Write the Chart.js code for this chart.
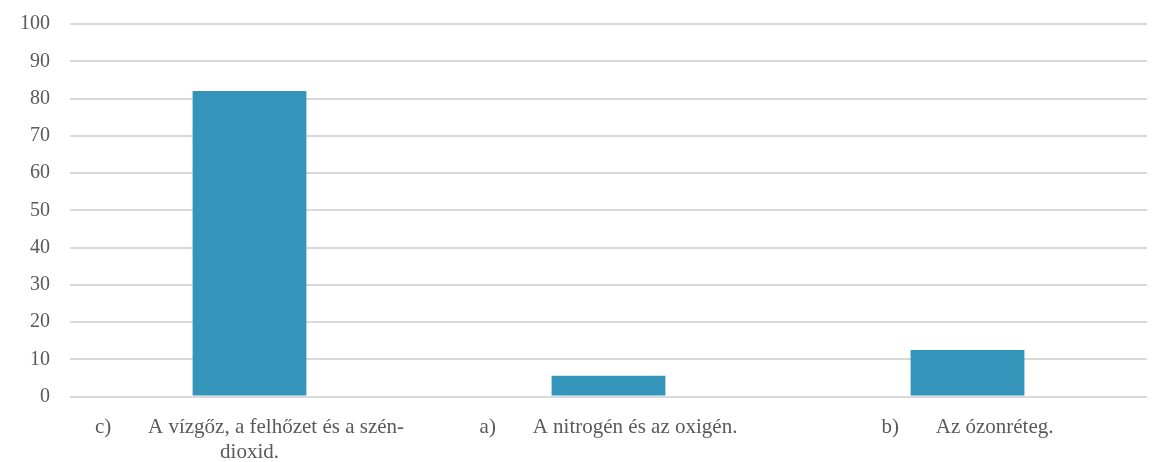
<!DOCTYPE html>
<html><head><meta charset="utf-8">
<script src="https://cdn.jsdelivr.net/npm/chart.js@4/dist/chart.umd.min.js"></script>
<style>html,body{margin:0;padding:0;background:#fff;overflow:hidden;width:1155px;height:462px}#wrap{width:1155px;height:491px;position:absolute;left:0;top:-8px}</style>
</head><body><div id="wrap"><canvas id="c"></canvas></div>
<script>
const categories = [
  ["c)\u00a0\u00a0\u00a0\u00a0\u00a0\u00a0\u00a0A vízgőz, a felhőzet és a szén-", "dioxid."],
  "a)\u00a0\u00a0\u00a0\u00a0\u00a0\u00a0\u00a0A nitrogén és az oxigén.",
  "b)\u00a0\u00a0\u00a0\u00a0\u00a0\u00a0\u00a0Az ózonréteg."
];
const values = [82, 5.6, 12.5];
const yTicks = [0, 10, 20, 30, 40, 50, 60, 70, 80, 90, 100];

new Chart(document.getElementById('c'), {
  type: 'bar',
  data: { labels: categories, datasets: [{ data: values, backgroundColor: '#3494BA', barPercentage: 0.317, categoryPercentage: 1 }] },
  options: {
    responsive: true, maintainAspectRatio: false, animation: false,
    layout: { padding: { top: 0, right: 8, left: 0, bottom: 0 } },
    plugins: { legend: { display: false }, tooltip: { enabled: false } },
    scales: {
      x: {
        grid: { display: false, drawTicks: false }, border: { display: false },
        ticks: { color: '#595959', font: { family: 'Liberation Serif', size: 21, lineHeight: 1.2 }, maxRotation: 0, autoSkip: false, padding: 18 }
      },
      y: {
        min: 0, max: 100,
        afterBuildTicks: s => { s.ticks = yTicks.map(v => ({ value: v })); },
        grid: { color: '#d9d9d9', lineWidth: 2, drawTicks: false }, border: { display: false },
        ticks: { color: '#595959', font: { family: 'Liberation Serif', size: 20 }, padding: 20 }
      }
    }
  }
});
</script></body></html>
